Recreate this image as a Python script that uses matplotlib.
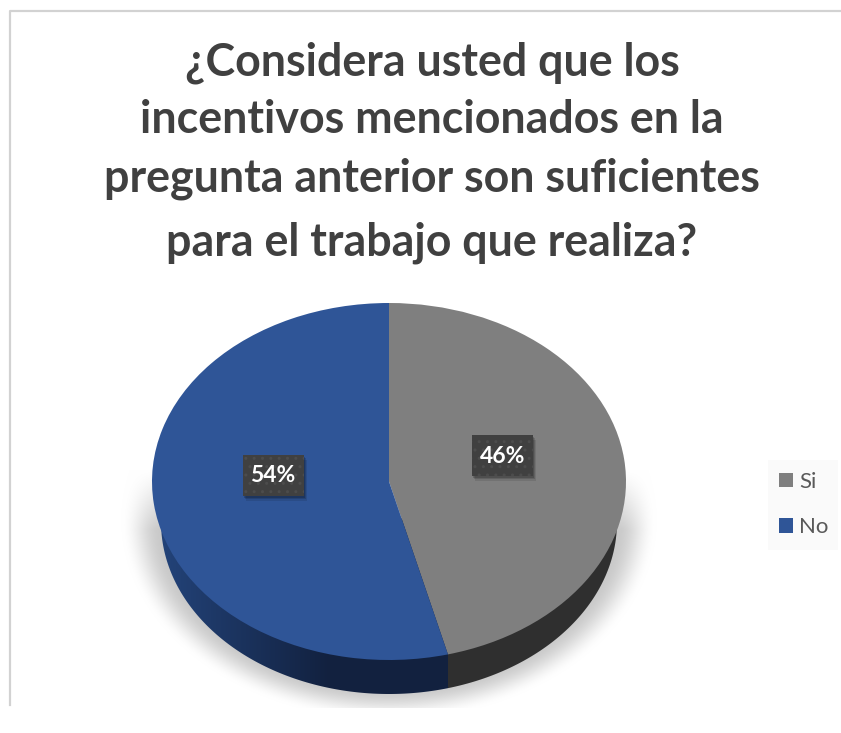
import numpy as np
import matplotlib
matplotlib.use("Agg")
import matplotlib.pyplot as plt
from matplotlib.patches import Rectangle, Polygon
from matplotlib.lines import Line2D
from matplotlib.colors import to_rgb

title_lines = ["¿Considera usted que los", "incentivos mencionados en la",
               "pregunta anterior son suficientes", "para el trabajo que realiza?"]
categories = ["Si", "No"]
values = [46, 54]
labels = ["46%", "54%"]
colors = ["#7f7f7f", "#2f5597"]

W, H = 841, 733
fig = plt.figure(figsize=(W / 100, H / 100), dpi=100, facecolor="white")

# background overlay in pixel coordinates
bg = fig.add_axes([0, 0, 1, 1], zorder=0)
bg.axis("off")
X, Y = np.meshgrid(np.arange(W) + .5, np.arange(H) + .5)
d = np.sqrt(((X - 389) / 268) ** 2 + ((Y - 520) / 200) ** 2)
a = np.clip((1 - d) / 0.15, 0, 1)
a = a * a * (3 - 2 * a)
a *= np.clip((Y - 470) / 60, 0, 1)
a[Y > 708] = 0
shade = 1 - a * (1 - 0.79)
bg.imshow(np.dstack([shade] * 3), extent=(0, W, H, 0), aspect="auto", interpolation="bilinear")
bg.set_xlim(0, W); bg.set_ylim(H, 0)
bg.add_line(Line2D([10, 10, W], [705, 11, 11], color="#d2d2d2", lw=1.6))
bg.add_patch(Rectangle((768, 460), 70, 90, fc="#fafafa", lw=0))

# pie axes: unit circle maps to the ellipse of the top face
cx, cy, rx, ry = 389, 481.5, 237, 178.5
xl, yt, yb = 1.1, 1.1, 1.3
ax = fig.add_axes([(cx - xl * rx) / W, 1 - (cy + yb * ry) / H, 2 * xl * rx / W, (yt + yb) * ry / H], zorder=1)
wedges, _ = ax.pie(values, colors=colors, startangle=90, counterclock=False, radius=1,
                   wedgeprops=dict(linewidth=0))
for w in wedges:
    w.set_zorder(5)

# extruded side: gradient image clipped to the lower arc
ra, rb, cb = 228 / rx, 172 / ry, -(522 - cy) / ry
split = np.sin(2 * np.pi * values[0] / sum(values))
xs = np.linspace(-ra, ra, 801)
bot = cb - rb * np.sqrt(np.clip(1 - (xs / ra) ** 2, 0, 1))
left, right = np.array(to_rgb("#234379")), np.array(to_rgb("#12213f"))
t = np.clip((xs + ra) / (ra - 0.25), 0, 1)[:, None]
grad = left * (1 - t) + right * t
grad[xs >= split] = to_rgb("#2f2f2f")
im = ax.imshow(grad[None, :, :], extent=(-ra, ra, bot.min(), cb + 0.02), aspect="auto",
               interpolation="nearest", zorder=3)
side = Polygon(np.column_stack([np.r_[xs, ra, -ra], np.r_[bot, cb + 0.02, cb + 0.02]]),
               transform=ax.transData, fc="none", lw=0)
ax.add_patch(side)
im.set_clip_path(side)
ax.set_aspect("auto")
ax.set_xlim(-xl, xl); ax.set_ylim(-yb, yt)

# data labels
pos = [(0.48, 0.146), (-0.489, 0.036)]
bw, bh = 61 / rx, 41 / ry
for (px, py), lab in zip(pos, labels):
    for k, al in [(5, 0.10), (3.5, 0.14), (2, 0.18)]:
        ax.add_patch(Rectangle((px - bw / 2 + k / rx * 0.6, py - bh / 2 - k / ry), bw, bh,
                               fc="black", alpha=al, lw=0, zorder=6))
    ax.add_patch(Rectangle((px - bw / 2, py - bh / 2), bw, bh, facecolor="#404040", edgecolor="#4c4c4c",
                           hatch="..", lw=0, zorder=7))
    ax.text(px, py - 0.005, lab, color="white", fontsize=16.5, fontweight="bold", family="Lato",
            ha="center", va="center", zorder=8)

# title
for line, y in zip(title_lines, [75, 133, 192, 255]):
    fig.text(432 / W, 1 - y / H, line, color="#404040", fontsize=32.2, fontweight="bold", family="Lato",
             ha="center", va="baseline", zorder=3)

# legend
leg = fig.legend(wedges, categories, loc="center", bbox_to_anchor=(803.5 / W, 1 - 504.5 / H),
                 frameon=False, prop=dict(family="Lato", size=16), labelcolor="#595959", borderpad=0,
                 handlelength=0.64, handleheight=0.64, handletextpad=0.27, labelspacing=1.15)
fig.savefig("out.png", dpi=100)
